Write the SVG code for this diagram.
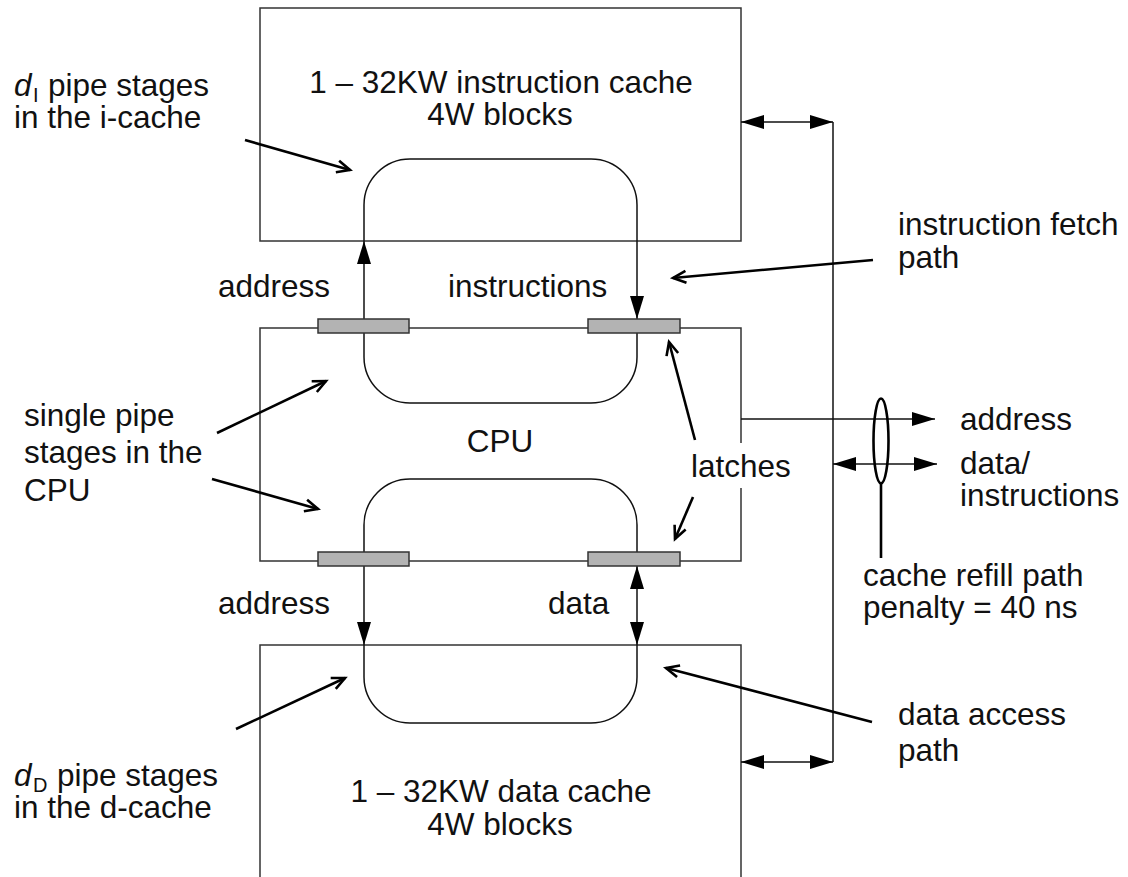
<svg xmlns="http://www.w3.org/2000/svg" width="1128" height="877" viewBox="0 0 1128 877">
<style>
  text { font-family: "Liberation Sans", Arial, Helvetica, sans-serif; font-size: 31.5px; fill: #111; }
  .box { fill: none; stroke: #333; stroke-width: 1.5; }
  .loop { fill: none; stroke: #111; stroke-width: 1.5; }
  .conn { fill: none; stroke: #111; stroke-width: 1.5; }
  .ann { fill: none; stroke: #000; stroke-width: 2.6; }
  .latch { fill: #b3b3b3; stroke: #333; stroke-width: 1.5; }
  .mid { text-anchor: middle; }
  .it { font-style: italic; }
  .sub { font-size: 20px; }
</style>
<defs>
  <marker id="solid" markerUnits="userSpaceOnUse" markerWidth="24" markerHeight="14" refX="23" refY="7" orient="auto-start-reverse" overflow="visible">
    <path d="M0,0 L23,7 L0,14 Z" fill="#000"/>
  </marker>
  <marker id="open" markerUnits="userSpaceOnUse" markerWidth="16" markerHeight="14" refX="14" refY="6.5" orient="auto" overflow="visible">
    <path d="M1,0.5 L14,6.5 L1,12.5" fill="none" stroke="#000" stroke-width="2.6"/>
  </marker>
</defs>

<g id="icache">
  <rect class="box" x="260" y="8" width="481" height="233"/>
  <text class="mid" x="501" y="93">1 – 32KW instruction cache</text>
  <text class="mid" x="500" y="125">4W blocks</text>
</g>

<g id="cpu">
  <path class="box" d="M741,443 V328 H260 V561 H741 V488"/>
  <text class="mid" x="500" y="452">CPU</text>
</g>

<g id="dcache">
  <path class="box" d="M260,890 V645 H741 V890"/>
  <text class="mid" x="501" y="802">1 – 32KW data cache</text>
  <text class="mid" x="500" y="835">4W blocks</text>
</g>

<g id="loops">
  <path class="loop" d="M364,241 V205 A46,46 0 0 1 410,159 H591 A46,46 0 0 1 637,205 V241"/>
  <path class="loop" d="M364,333 V357 A46,46 0 0 0 410,403 H591 A46,46 0 0 0 637,357 V333"/>
  <path class="loop" d="M364,552 V525 A46,46 0 0 1 410,479 H591 A46,46 0 0 1 637,525 V552"/>
  <path class="loop" d="M364,645 V677 A46,46 0 0 0 410,723 H591 A46,46 0 0 0 637,677 V645"/>
</g>

<g id="connectors">
  <line class="conn" x1="364" y1="319" x2="364" y2="241" marker-end="url(#solid)"/>
  <line class="conn" x1="637" y1="241" x2="637" y2="319" marker-end="url(#solid)"/>
  <line class="conn" x1="364" y1="566" x2="364" y2="645" marker-end="url(#solid)"/>
  <line class="conn" x1="637" y1="566" x2="637" y2="645" marker-start="url(#solid)" marker-end="url(#solid)"/>
  <line class="conn" x1="833" y1="122" x2="833" y2="762"/>
  <line class="conn" x1="741" y1="122" x2="833" y2="122" marker-start="url(#solid)" marker-end="url(#solid)"/>
  <line class="conn" x1="741" y1="762" x2="833" y2="762" marker-start="url(#solid)" marker-end="url(#solid)"/>
  <line class="conn" x1="741" y1="419" x2="935" y2="419" marker-end="url(#solid)"/>
  <line class="conn" x1="833" y1="464" x2="937" y2="464" marker-start="url(#solid)" marker-end="url(#solid)"/>
</g>

<g id="latches">
  <rect class="latch" x="318" y="319" width="91" height="14"/>
  <rect class="latch" x="588" y="319" width="92" height="14"/>
  <rect class="latch" x="318" y="552" width="91" height="14"/>
  <rect class="latch" x="588" y="552" width="92" height="14"/>
</g>

<g id="refill">
  <ellipse cx="881" cy="441" rx="7.5" ry="42.5" fill="none" stroke="#000" stroke-width="2.6"/>
  <line x1="881" y1="484" x2="881" y2="558" stroke="#000" stroke-width="2.6"/>
</g>

<g id="annotations">
  <line class="ann" x1="245" y1="140" x2="350" y2="170" marker-end="url(#open)"/>
  <line class="ann" x1="217" y1="433" x2="326" y2="381" marker-end="url(#open)"/>
  <line class="ann" x1="212" y1="479" x2="318" y2="509" marker-end="url(#open)"/>
  <line class="ann" x1="236" y1="729" x2="345" y2="678" marker-end="url(#open)"/>
  <line class="ann" x1="873" y1="260" x2="673" y2="278" marker-end="url(#open)"/>
  <line class="ann" x1="872" y1="722" x2="666" y2="668" marker-end="url(#open)"/>
  <line class="ann" x1="695" y1="440" x2="669" y2="342" marker-end="url(#open)"/>
  <line class="ann" x1="693" y1="497" x2="675" y2="539" marker-end="url(#open)"/>
</g>

<g id="labels">
  <text class="it" x="14" y="96">d</text>
  <text class="sub" x="33" y="102">I</text>
  <text x="48" y="96">pipe stages</text>
  <text x="14" y="128">in the i-cache</text>
  <text x="218" y="297">address</text>
  <text x="448" y="297">instructions</text>
  <text x="898" y="235">instruction fetch</text>
  <text x="898" y="268">path</text>
  <text x="24" y="426">single pipe</text>
  <text x="24" y="463">stages in the</text>
  <text x="24" y="501">CPU</text>
  <rect x="686" y="443" width="108" height="45" fill="#fff"/>
  <text x="691" y="477">latches</text>
  <text x="960" y="430">address</text>
  <text x="960" y="474">data/</text>
  <text x="960" y="506">instructions</text>
  <text x="863" y="586">cache refill path</text>
  <text x="863" y="618">penalty = 40 ns</text>
  <text x="218" y="614">address</text>
  <text x="548" y="614">data</text>
  <text x="898" y="725">data access</text>
  <text x="898" y="761">path</text>
  <text class="it" x="14" y="786">d</text>
  <text class="sub" x="33" y="792">D</text>
  <text x="57" y="786">pipe stages</text>
  <text x="14" y="818">in the d-cache</text>
</g>
</svg>
